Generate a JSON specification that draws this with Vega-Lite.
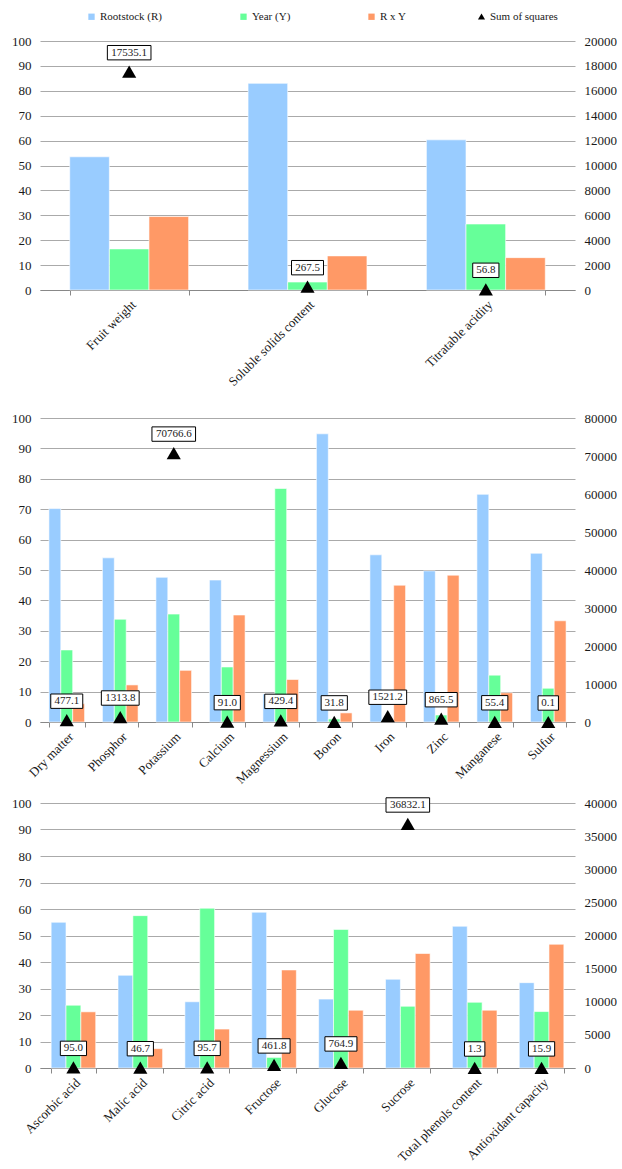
{
  "$schema": "https://vega.github.io/schema/vega-lite/v6.json",
  "padding": {"left": 11, "top": 11, "right": 0, "bottom": 0},
  "bounds": "flush",
  "spacing": 128,
  "resolve": {"scale": {"xOffset": "independent"}},
  "config": {
    "font": "Liberation Serif, Times New Roman, serif",
    "view": {"stroke": null},
    "text": {"font": "Liberation Serif, Times New Roman, serif"},
    "axis": {"labelFont": "Liberation Serif, Times New Roman, serif", "labelFontSize": 13, "labelColor": "#1a1a1a", "title": null, "gridColor": "#aaaaaa", "gridWidth": 1, "domainColor": "#888888", "tickColor": "#888888"},
    "legend": {"orient": "none", "legendY": -30, "direction": "horizontal", "title": null, "labelFont": "Liberation Serif, Times New Roman, serif", "labelFontSize": 11, "labelColor": "#1a1a1a", "symbolSize": 40, "columnPadding": 75, "labelOffset": 3, "padding": 0, "symbolStrokeWidth": 0}
  },
  "datasets": {
    "p1b": [
      {"cat": "Fruit weight", "series": "Rootstock (R)", "value": 53.5},
      {"cat": "Fruit weight", "series": "Year (Y)", "value": 16.5},
      {"cat": "Fruit weight", "series": "R x Y", "value": 29.5},
      {"cat": "Soluble solids content", "series": "Rootstock (R)", "value": 83.0},
      {"cat": "Soluble solids content", "series": "Year (Y)", "value": 3.2},
      {"cat": "Soluble solids content", "series": "R x Y", "value": 13.7},
      {"cat": "Titratable acidity", "series": "Rootstock (R)", "value": 60.3},
      {"cat": "Titratable acidity", "series": "Year (Y)", "value": 26.5},
      {"cat": "Titratable acidity", "series": "R x Y", "value": 13.0}
    ],
    "p1s": [
      {"cat": "Fruit weight", "ss": 17535.1},
      {"cat": "Soluble solids content", "ss": 267.5},
      {"cat": "Titratable acidity", "ss": 56.8}
    ],
    "p2b": [
      {"cat": "Dry matter", "series": "Rootstock (R)", "value": 70.2},
      {"cat": "Dry matter", "series": "Year (Y)", "value": 23.7},
      {"cat": "Dry matter", "series": "R x Y", "value": 6.0},
      {"cat": "Phosphor", "series": "Rootstock (R)", "value": 54.0},
      {"cat": "Phosphor", "series": "Year (Y)", "value": 33.8},
      {"cat": "Phosphor", "series": "R x Y", "value": 12.2},
      {"cat": "Potassium", "series": "Rootstock (R)", "value": 47.6},
      {"cat": "Potassium", "series": "Year (Y)", "value": 35.5},
      {"cat": "Potassium", "series": "R x Y", "value": 17.0},
      {"cat": "Calcium", "series": "Rootstock (R)", "value": 46.7},
      {"cat": "Calcium", "series": "Year (Y)", "value": 18.1},
      {"cat": "Calcium", "series": "R x Y", "value": 35.2},
      {"cat": "Magnessium", "series": "Rootstock (R)", "value": 9.2},
      {"cat": "Magnessium", "series": "Year (Y)", "value": 76.8},
      {"cat": "Magnessium", "series": "R x Y", "value": 14.0},
      {"cat": "Boron", "series": "Rootstock (R)", "value": 94.8},
      {"cat": "Boron", "series": "Year (Y)", "value": 1.0},
      {"cat": "Boron", "series": "R x Y", "value": 3.0},
      {"cat": "Iron", "series": "Rootstock (R)", "value": 55.0},
      {"cat": "Iron", "series": "Year (Y)", "value": 0.5},
      {"cat": "Iron", "series": "R x Y", "value": 45.0},
      {"cat": "Zinc", "series": "Rootstock (R)", "value": 49.7},
      {"cat": "Zinc", "series": "Year (Y)", "value": 2.3},
      {"cat": "Zinc", "series": "R x Y", "value": 48.3},
      {"cat": "Manganese", "series": "Rootstock (R)", "value": 74.9},
      {"cat": "Manganese", "series": "Year (Y)", "value": 15.4},
      {"cat": "Manganese", "series": "R x Y", "value": 9.6},
      {"cat": "Sulfur", "series": "Rootstock (R)", "value": 55.5},
      {"cat": "Sulfur", "series": "Year (Y)", "value": 11.1},
      {"cat": "Sulfur", "series": "R x Y", "value": 33.3}
    ],
    "p2s": [
      {"cat": "Dry matter", "ss": 477.1},
      {"cat": "Phosphor", "ss": 1313.8},
      {"cat": "Potassium", "ss": 70766.6},
      {"cat": "Calcium", "ss": 91.0},
      {"cat": "Magnessium", "ss": 429.4},
      {"cat": "Boron", "ss": 31.8},
      {"cat": "Iron", "ss": 1521.2},
      {"cat": "Zinc", "ss": 865.5},
      {"cat": "Manganese", "ss": 55.4},
      {"cat": "Sulfur", "ss": 0.1}
    ],
    "p3b": [
      {"cat": "Ascorbic acid", "series": "Rootstock (R)", "value": 55.0},
      {"cat": "Ascorbic acid", "series": "Year (Y)", "value": 23.7},
      {"cat": "Ascorbic acid", "series": "R x Y", "value": 21.2},
      {"cat": "Malic acid", "series": "Rootstock (R)", "value": 35.0},
      {"cat": "Malic acid", "series": "Year (Y)", "value": 57.5},
      {"cat": "Malic acid", "series": "R x Y", "value": 7.3},
      {"cat": "Citric acid", "series": "Rootstock (R)", "value": 25.0},
      {"cat": "Citric acid", "series": "Year (Y)", "value": 60.3},
      {"cat": "Citric acid", "series": "R x Y", "value": 14.7},
      {"cat": "Fructose", "series": "Rootstock (R)", "value": 58.8},
      {"cat": "Fructose", "series": "Year (Y)", "value": 4.0},
      {"cat": "Fructose", "series": "R x Y", "value": 37.0},
      {"cat": "Glucose", "series": "Rootstock (R)", "value": 26.0},
      {"cat": "Glucose", "series": "Year (Y)", "value": 52.3},
      {"cat": "Glucose", "series": "R x Y", "value": 21.8},
      {"cat": "Sucrose", "series": "Rootstock (R)", "value": 33.5},
      {"cat": "Sucrose", "series": "Year (Y)", "value": 23.3},
      {"cat": "Sucrose", "series": "R x Y", "value": 43.2},
      {"cat": "Total phenols content", "series": "Rootstock (R)", "value": 53.5},
      {"cat": "Total phenols content", "series": "Year (Y)", "value": 24.8},
      {"cat": "Total phenols content", "series": "R x Y", "value": 21.8},
      {"cat": "Antioxidant capacity", "series": "Rootstock (R)", "value": 32.2},
      {"cat": "Antioxidant capacity", "series": "Year (Y)", "value": 21.3},
      {"cat": "Antioxidant capacity", "series": "R x Y", "value": 46.7}
    ],
    "p3s": [
      {"cat": "Ascorbic acid", "ss": 95.0},
      {"cat": "Malic acid", "ss": 46.7},
      {"cat": "Citric acid", "ss": 95.7},
      {"cat": "Fructose", "ss": 461.8},
      {"cat": "Glucose", "ss": 764.9},
      {"cat": "Sucrose", "ss": 36832.1},
      {"cat": "Total phenols content", "ss": 1.3},
      {"cat": "Antioxidant capacity", "ss": 15.9}
    ]
  },
  "vconcat": [
    {
      "width": 535, "height": 249,
      "layer": [
        {
          "data": {"name": "p1b"},
          "mark": {"type": "bar", "stroke": "white", "strokeWidth": 0.6},
          "encoding": {
            "x": {"field": "cat", "type": "nominal", "sort": null, "scale": {"paddingInner": 0.3333, "paddingOuter": 0.1667}, "axis": {"labelAngle": -45, "tickBand": "extent", "tickSize": 5, "labelPadding": 3}},
            "xOffset": {"field": "series", "type": "nominal", "sort": ["Rootstock (R)", "Year (Y)", "R x Y"], "scale": {"paddingInner": 0, "paddingOuter": 0}},
            "y": {"field": "value", "type": "quantitative", "scale": {"domain": [0, 100]}, "axis": {"values": [0, 10, 20, 30, 40, 50, 60, 70, 80, 90, 100], "domain": false, "ticks": false, "grid": true, "labelPadding": 9}},
            "color": {"field": "series", "type": "nominal", "scale": {"domain": ["Rootstock (R)", "Year (Y)", "R x Y"], "range": ["#99CCFF", "#66FF99", "#FF9966"]}, "legend": {"symbolType": "square", "legendX": 46, "legendY": -30}}
          }
        },
        {
          "data": {"name": "p1s"},
          "encoding": {
            "x": {"field": "cat", "type": "nominal", "sort": null},
            "y": {"field": "ss", "type": "quantitative", "scale": {"domain": [0, 20000]}, "axis": {"orient": "right", "values": [0, 2000, 4000, 6000, 8000, 10000, 12000, 14000, 16000, 18000, 20000], "format": "d", "domain": false, "ticks": false, "grid": false, "labelPadding": 9}}
          },
          "layer": [
            {"mark": {"type": "point", "filled": true, "color": "black", "size": 200, "opacity": 1}, "encoding": {"shape": {"datum": "Sum of squares", "scale": {"domain": ["Sum of squares"], "range": ["triangle-up"]}, "legend": {"legendX": 436, "legendY": -30, "symbolSize": 50, "symbolFillColor": "black"}}}},
            {"mark": {"type": "point", "filled": true, "fill": "white", "stroke": "black", "strokeWidth": 1, "opacity": 1, "size": 400, "yOffset": -19, "shape": {"expr": "'M' + (-(length(format(datum.ss,'.1f'))*0.29+0.15)) + ',-0.72H' + (length(format(datum.ss,'.1f'))*0.29+0.15) + 'V0.72H' + (-(length(format(datum.ss,'.1f'))*0.29+0.15)) + 'Z'"}}},
            {"mark": {"type": "text", "yOffset": -19, "fontSize": 11, "color": "#1a1a1a"}, "encoding": {"text": {"field": "ss", "type": "quantitative", "format": ".1f"}}}
          ]
        }
      ],
      "resolve": {"scale": {"y": "independent"}}
    },
    {
      "bounds": "flush",
      "spacing": 81,
      "resolve": {"scale": {"xOffset": "independent"}},
      "vconcat": [
        {
          "width": 535, "height": 304,
          "layer": [
            {
              "data": {"name": "p2b"},
              "mark": {"type": "bar", "stroke": "white", "strokeWidth": 0.6},
              "encoding": {
                "x": {"field": "cat", "type": "nominal", "sort": null, "scale": {"paddingInner": 0.3333, "paddingOuter": 0.1667}, "axis": {"labelAngle": -45, "tickBand": "extent", "tickSize": 5, "labelPadding": 3}},
                "xOffset": {"field": "series", "type": "nominal", "sort": ["Rootstock (R)", "Year (Y)", "R x Y"], "scale": {"paddingInner": 0, "paddingOuter": 0}},
                "y": {"field": "value", "type": "quantitative", "scale": {"domain": [0, 100]}, "axis": {"values": [0, 10, 20, 30, 40, 50, 60, 70, 80, 90, 100], "domain": false, "ticks": false, "grid": true, "labelPadding": 9}},
                "color": {"field": "series", "type": "nominal"}
              }
            },
            {
              "data": {"name": "p2s"},
              "encoding": {
                "x": {"field": "cat", "type": "nominal", "sort": null},
                "y": {"field": "ss", "type": "quantitative", "scale": {"domain": [0, 80000]}, "axis": {"orient": "right", "values": [0, 10000, 20000, 30000, 40000, 50000, 60000, 70000, 80000], "format": "d", "domain": false, "ticks": false, "grid": false, "labelPadding": 9}}
              },
              "layer": [
                {"mark": {"type": "point", "filled": true, "color": "black", "size": 200, "opacity": 1}, "encoding": {"shape": {"datum": "Sum of squares"}}},
                {"mark": {"type": "point", "filled": true, "fill": "white", "stroke": "black", "strokeWidth": 1, "opacity": 1, "size": 400, "yOffset": -19, "shape": {"expr": "'M' + (-(length(format(datum.ss,'.1f'))*0.29+0.15)) + ',-0.72H' + (length(format(datum.ss,'.1f'))*0.29+0.15) + 'V0.72H' + (-(length(format(datum.ss,'.1f'))*0.29+0.15)) + 'Z'"}}},
                {"mark": {"type": "text", "yOffset": -19, "fontSize": 11, "color": "#1a1a1a"}, "encoding": {"text": {"field": "ss", "type": "quantitative", "format": ".1f"}}}
              ]
            }
          ],
          "resolve": {"scale": {"y": "independent"}}
        },
        {
          "width": 535, "height": 265,
          "layer": [
            {
              "data": {"name": "p3b"},
              "mark": {"type": "bar", "stroke": "white", "strokeWidth": 0.6},
              "encoding": {
                "x": {"field": "cat", "type": "nominal", "sort": null, "scale": {"paddingInner": 0.3333, "paddingOuter": 0.1667}, "axis": {"labelAngle": -45, "tickBand": "extent", "tickSize": 5, "labelPadding": 3}},
                "xOffset": {"field": "series", "type": "nominal", "sort": ["Rootstock (R)", "Year (Y)", "R x Y"], "scale": {"paddingInner": 0, "paddingOuter": 0}},
                "y": {"field": "value", "type": "quantitative", "scale": {"domain": [0, 100]}, "axis": {"values": [0, 10, 20, 30, 40, 50, 60, 70, 80, 90, 100], "domain": false, "ticks": false, "grid": true, "labelPadding": 9}},
                "color": {"field": "series", "type": "nominal"}
              }
            },
            {
              "data": {"name": "p3s"},
              "encoding": {
                "x": {"field": "cat", "type": "nominal", "sort": null},
                "y": {"field": "ss", "type": "quantitative", "scale": {"domain": [0, 40000]}, "axis": {"orient": "right", "values": [0, 5000, 10000, 15000, 20000, 25000, 30000, 35000, 40000], "format": "d", "domain": false, "ticks": false, "grid": false, "labelPadding": 9}}
              },
              "layer": [
                {"mark": {"type": "point", "filled": true, "color": "black", "size": 200, "opacity": 1}, "encoding": {"shape": {"datum": "Sum of squares"}}},
                {"mark": {"type": "point", "filled": true, "fill": "white", "stroke": "black", "strokeWidth": 1, "opacity": 1, "size": 400, "yOffset": -19, "shape": {"expr": "'M' + (-(length(format(datum.ss,'.1f'))*0.29+0.15)) + ',-0.72H' + (length(format(datum.ss,'.1f'))*0.29+0.15) + 'V0.72H' + (-(length(format(datum.ss,'.1f'))*0.29+0.15)) + 'Z'"}}},
                {"mark": {"type": "text", "yOffset": -19, "fontSize": 11, "color": "#1a1a1a"}, "encoding": {"text": {"field": "ss", "type": "quantitative", "format": ".1f"}}}
              ]
            }
          ],
          "resolve": {"scale": {"y": "independent"}}
        }
      ]
    }
  ]
}
